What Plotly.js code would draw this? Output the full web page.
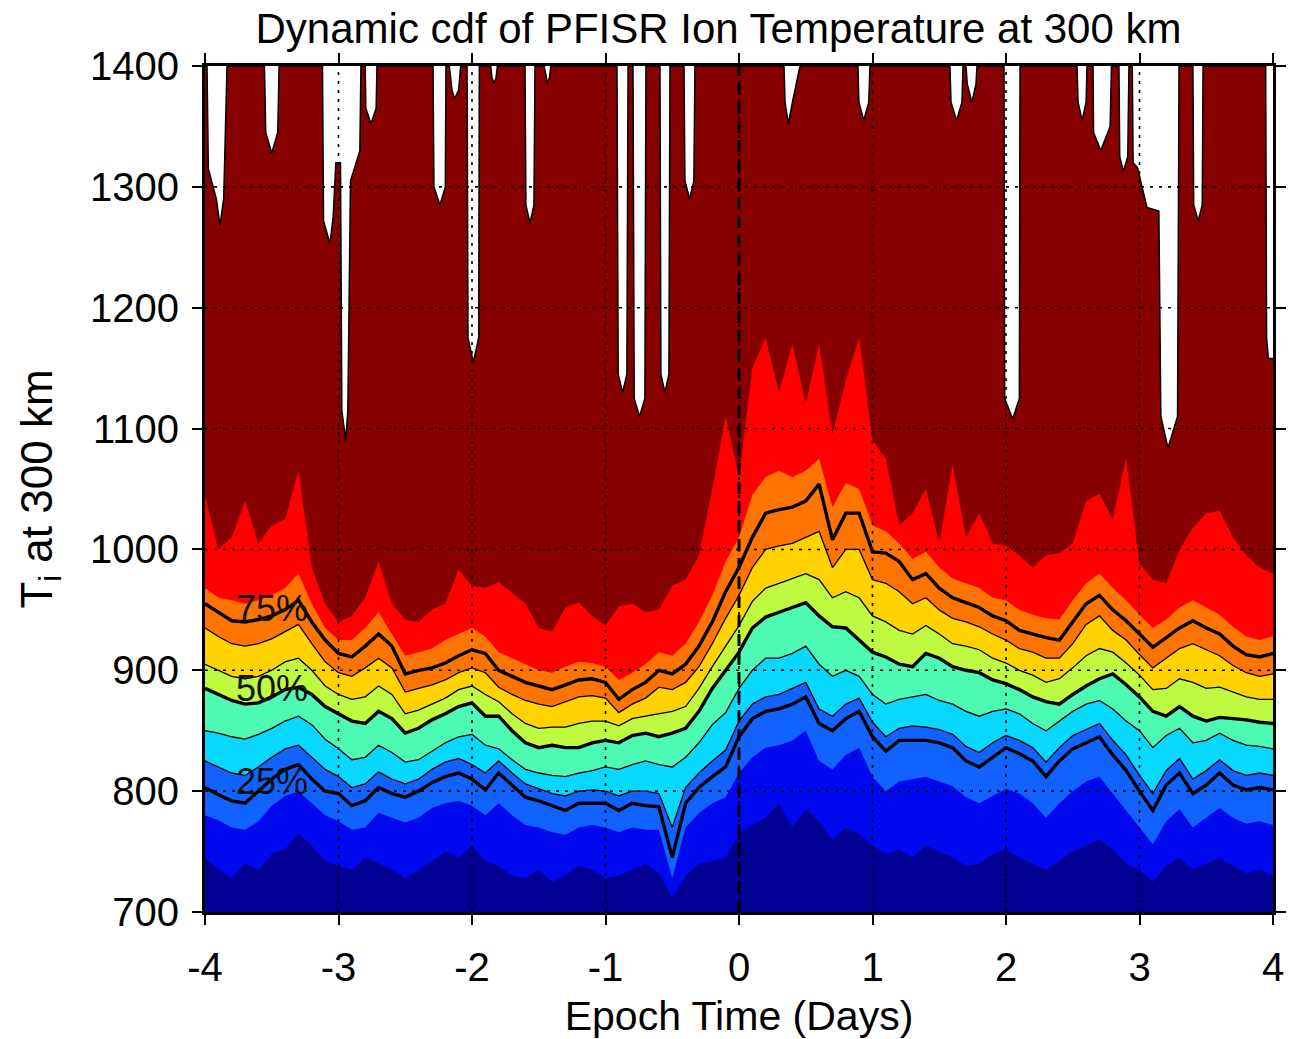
<!DOCTYPE html>
<html>
<head>
<meta charset="utf-8">
<script src="https://cdn.plot.ly/plotly-3.0.1.min.js"></script>
<style>html,body{margin:0;padding:0;background:#fff;}#chart{width:1304px;height:1039px;}</style>
</head>
<body>
<div id="chart"></div>
<script>
// Epoch time grid (days)
const t = [-4.0,-3.9,-3.8,-3.7,-3.6,-3.5,-3.4,-3.3,-3.2,-3.1,
 -3.0,-2.9,-2.8,-2.7,-2.6,-2.5,-2.4,-2.3,-2.2,-2.1,
 -2.0,-1.9,-1.8,-1.7,-1.6,-1.5,-1.4,-1.3,-1.2,-1.1,
 -1.0,-0.9,-0.8,-0.7,-0.6,-0.5,-0.4,-0.3,-0.2,-0.1,
 0.0,0.1,0.2,0.3,0.4,0.5,0.6,0.7,0.8,0.9,
 1.0,1.1,1.2,1.3,1.4,1.5,1.6,1.7,1.8,1.9,
 2.0,2.1,2.2,2.3,2.4,2.5,2.6,2.7,2.8,2.9,
 3.0,3.1,3.2,3.3,3.4,3.5,3.6,3.7,3.8,3.9,4.0];

// Percentile boundaries of ion temperature (K)
const p90 = [1045,1000,1010,1040,1005,1020,1025,1065,985,955,
 940,945,960,990,955,942,940,950,955,983,
 970,968,973,964,955,935,932,952,956,945,
 937,953,955,948,950,970,975,995,1050,1110,
 1060,1150,1175,1130,1170,1120,1170,1095,1140,1175,
 1090,1075,1020,1030,1050,1005,1070,1010,1030,1005,
 1003,995,985,995,997,1005,1040,1046,1025,1075,
 988,975,972,1000,1018,1030,1032,1010,995,985,980];
const p80 = [968,960,958,955,958,962,968,980,955,935,
 925,925,935,948,930,912,915,918,925,930,
 935,928,915,910,905,900,898,903,907,906,
 903,892,898,905,915,912,922,940,962,990,
 1010,1045,1060,1065,1060,1065,1075,1035,1055,1050,
 1020,1015,1005,992,998,985,976,972,968,960,
 958,950,946,943,942,958,972,980,968,958,
 946,935,942,952,958,952,946,936,928,925,928];
const p75 = [955,948,941,940,942,945,950,958,940,925,
 914,911,920,930,920,897,900,902,906,912,
 917,914,900,895,890,887,884,888,892,893,
 890,876,884,890,900,897,905,920,940,965,
 985,1010,1030,1033,1035,1040,1054,1008,1030,1030,
 998,997,990,975,980,968,960,956,952,945,
 941,933,930,927,925,940,955,962,950,941,
 930,919,927,935,941,935,930,920,913,911,914];
const p70 = [935,928,922,920,922,926,932,938,922,907,
 898,895,902,910,902,882,885,888,892,898,
 902,898,886,880,875,872,870,874,878,879,
 877,865,872,877,886,884,890,903,922,943,
 962,985,1000,1003,1005,1010,1015,985,1000,1000,
 975,972,965,955,960,950,943,940,936,930,
 925,918,915,910,910,922,938,945,933,925,
 913,902,910,918,922,917,912,904,898,895,897];
const p60 = [905,900,895,893,895,900,907,910,900,887,
 880,876,878,887,880,864,867,872,877,884,
 887,880,874,864,856,852,853,853,856,858,
 858,854,860,862,864,866,870,885,903,920,
 937,957,968,972,976,980,975,960,965,960,
 945,940,933,930,937,930,922,920,917,910,
 906,900,896,890,893,902,912,918,915,906,
 896,884,885,893,890,885,886,882,878,876,876];
const p50 = [885,880,875,872,873,878,884,886,880,870,
 864,858,856,866,860,848,852,859,864,870,
 873,862,862,850,840,836,838,836,836,840,
 842,840,846,848,845,848,852,866,885,900,
 915,935,944,948,952,956,945,936,935,925,
 915,911,905,903,914,910,903,900,898,892,
 889,884,878,874,872,880,887,893,897,888,
 878,866,862,870,862,858,861,860,859,857,856];
const p40 = [850,848,845,843,847,852,858,862,855,843,
 835,826,828,838,832,824,826,833,840,845,
 847,838,835,826,818,815,813,812,815,817,
 820,818,822,825,822,820,828,840,855,865,
 885,900,910,910,914,920,905,895,900,895,
 880,872,876,878,880,875,872,866,862,866,
 868,864,856,850,858,866,872,875,868,858,
 850,836,846,852,840,842,848,842,838,837,835];
const p30 = [825,820,815,813,820,828,835,838,828,818,
 812,803,806,816,810,806,810,818,824,827,
 822,815,825,815,806,802,798,796,800,801,
 800,796,800,800,798,770,803,815,825,834,
 858,872,878,880,885,890,868,862,872,877,
 857,845,852,854,853,851,847,837,832,840,
 846,842,836,824,836,846,851,856,842,830,
 813,798,817,827,810,817,826,817,813,815,813];
const p25 = [803,797,792,790,800,810,818,822,810,800,
 798,788,792,803,798,795,800,807,812,815,
 810,801,815,805,795,792,788,784,790,790,
 790,784,790,788,787,745,790,803,812,820,
 845,860,866,868,872,878,856,850,860,866,
 845,833,842,842,842,840,836,825,820,828,
 836,831,825,812,825,835,840,845,830,817,
 800,784,805,815,798,805,815,805,801,803,801];
const p20 = [780,776,770,768,775,788,796,800,790,780,
 775,768,770,782,778,774,778,786,790,792,
 788,780,790,780,772,770,766,764,770,772,
 770,766,770,768,768,728,770,782,790,795,
 815,828,836,838,842,850,825,818,830,836,
 812,800,808,810,812,808,804,795,790,796,
 802,798,790,778,790,800,808,812,798,784,
 770,756,775,785,770,778,786,778,773,775,772];
const p10 = [745,735,728,740,735,748,752,765,755,742,
 738,735,745,740,735,728,735,742,750,745,
 755,742,738,730,728,735,725,730,738,735,
 728,730,735,740,732,712,730,740,742,745,
 765,772,778,790,770,785,775,760,770,765,
 755,748,752,745,755,750,745,738,740,748,
 752,745,740,735,742,750,755,760,752,740,
 735,725,738,745,735,740,745,738,732,735,730];

// Maximum observed temperature (top of distribution), irregular times
const tMax = [-4.0,
 -3.985,-3.975,-3.915,-3.888,-3.86,-3.835,
 -3.555,-3.545,-3.5,-3.455,-3.445,
 -3.12,-3.112,-3.064,-3.04,-3.02,-2.985,-2.975,-2.946,-2.93,-2.91,-2.84,-2.832,
 -2.80,-2.795,-2.757,-2.718,-2.712,
 -2.292,-2.285,-2.24,-2.2,-2.195,
 -2.17,-2.15,-2.13,-2.1,-2.085,
 -2.037,-2.03,-1.99,-1.95,-1.945,
 -1.86,-1.85,-1.835,-1.82,-1.81,
 -1.603,-1.596,-1.566,-1.536,-1.528,
 -1.46,-1.445,-1.435,-1.42,-1.41,
 -0.914,-0.905,-0.872,-0.84,-0.831,
 -0.794,-0.785,-0.745,-0.705,-0.697,
 -0.592,-0.585,-0.555,-0.525,-0.517,
 -0.412,-0.405,-0.37,-0.338,-0.33,
 0.337,0.345,0.37,0.4,0.457,
 0.891,0.898,0.935,0.972,0.981,
 1.58,1.588,1.63,1.67,1.678,
 1.70,1.71,1.745,1.775,1.783,
 1.985,1.99,2.05,2.1,2.105,
 2.532,2.54,2.57,2.6,2.607,
 2.652,2.656,2.71,2.78,2.79,
 2.846,2.852,2.88,2.912,2.921,
 2.946,2.952,2.985,3.056,3.145,3.16,3.213,3.285,3.296,
 3.40,3.406,3.44,3.47,3.476,
 3.945,3.952,3.965,4.0];
const maxT = [1400,
 1400,1315,1290,1268,1290,1400,
 1400,1345,1328,1345,1400,
 1400,1272,1253,1275,1320,1320,1115,1090,1115,1305,1330,1400,
 1400,1365,1352,1365,1400,
 1400,1300,1285,1300,1400,
 1400,1380,1373,1380,1400,
 1400,1175,1155,1175,1400,
 1400,1390,1386,1390,1400,
 1400,1285,1270,1285,1400,
 1400,1390,1386,1390,1400,
 1400,1145,1130,1145,1400,
 1400,1125,1110,1125,1400,
 1400,1145,1130,1145,1400,
 1400,1305,1290,1305,1400,
 1400,1370,1352,1370,1400,
 1400,1370,1355,1370,1400,
 1400,1370,1355,1370,1400,
 1400,1385,1370,1385,1400,
 1400,1125,1108,1125,1400,
 1400,1370,1355,1370,1400,
 1400,1345,1330,1350,1400,
 1400,1325,1313,1325,1400,
 1400,1320,1316,1283,1280,1110,1084,1110,1400,
 1400,1285,1272,1285,1400,
 1400,1175,1158,1158];

const xTicks = [-4,-3,-2,-1,0,1,2,3,4];
const yTicks = [700,800,900,1000,1100,1200,1300,1400];
const labelNames = ['75%','50%','25%'];
const labelT = [-3.5,-3.5,-3.5];
const labelY = [951,885,808];

const FONT = 'Liberation Sans, Arial, Helvetica, sans-serif';

function band(x, y, color, edge) {
  return {x: x, y: y, type: 'scatter', mode: 'lines', fill: 'tozeroy', fillcolor: color,
    line: edge ? {color: '#000', width: 1.5} : {width: 0, color: color},
    hoverinfo: 'skip', showlegend: false};
}
function contour(y, w) {
  return {x: t, y: y, type: 'scatter', mode: 'lines', line: {color: '#000', width: w},
    hoverinfo: 'skip', showlegend: false};
}

const data = [
  band(tMax, maxT, '#860000', true),
  band(t, p90, '#FF0000'),
  band(t, p80, '#FF7400'),
  band(t, p70, '#FFD200'),
  band(t, p60, '#BEFA40'),
  band(t, p50, '#4CFAB4'),
  band(t, p40, '#08D8FF'),
  band(t, p30, '#1262FF'),
  band(t, p20, '#0008EE'),
  band(t, p10, '#000092'),
  contour(p70, 1.3), contour(p60, 1.3), contour(p40, 1.3), contour(p30, 1.3),
  contour(p75, 3.4), contour(p50, 3.4), contour(p25, 3.4)
];

const axisCommon = {
  ticks: 'outside', ticklen: 10, tickwidth: 2, tickcolor: '#000',
  showline: true, linewidth: 3, linecolor: '#000', mirror: 'ticks',
  showgrid: false, zeroline: false, layer: 'above traces',
  tickfont: {family: FONT, size: 40, color: '#000'}
};

// dotted grid drawn above the filled bands (as in the original)
const gridDash = '3px,6px';
const gridShapes = [];
xTicks.filter(v => v > -4 && v < 4).forEach(v => gridShapes.push({type: 'line', xref: 'x', yref: 'paper',
  x0: v, x1: v, y0: 0, y1: 1, layer: 'above', line: {color: '#000', width: 1.6, dash: gridDash}}));
yTicks.filter(v => v > 700 && v < 1400).forEach(v => gridShapes.push({type: 'line', xref: 'paper', yref: 'y',
  x0: 0, x1: 1, y0: v, y1: v, layer: 'above', line: {color: '#000', width: 1.6, dash: gridDash}}));
gridShapes.push({type: 'line', xref: 'x', yref: 'paper', x0: 0, x1: 0, y0: 0, y1: 1,
  line: {color: '#000', width: 3, dash: '12px,7px'}, layer: 'above'});

const layout = {
  width: 1304, height: 1039,
  margin: {l: 205, r: 31, t: 66, b: 127},
  paper_bgcolor: '#fff', plot_bgcolor: '#fff',
  font: {family: FONT, color: '#000'},
  title: {text: 'Dynamic cdf of PFISR Ion Temperature at 300 km',
    font: {family: FONT, size: 42, color: '#000'},
    x: 0.551, xref: 'container', xanchor: 'center', y: 0.973, yref: 'container', yanchor: 'middle'},
  xaxis: Object.assign({}, axisCommon, {
    range: [-4, 4], tickvals: xTicks, ticktext: xTicks.map(String), ticklabelstandoff: 8,
    title: {text: 'Epoch Time (Days)', font: {family: FONT, size: 41, color: '#000'}, standoff: 16}
  }),
  yaxis: Object.assign({}, axisCommon, {
    range: [700, 1400], tickvals: yTicks, ticktext: yTicks.map(String), ticklabelstandoff: 5,
    title: {text: 'T<sub>i</sub> at 300 km', font: {family: FONT, size: 44, color: '#000'}, standoff: 24}
  }),
  shapes: gridShapes,
  annotations: labelNames.map((s, i) => ({x: labelT[i], y: labelY[i], xref: 'x', yref: 'y',
    text: s, showarrow: false, font: {family: FONT, size: 36, color: '#111'},
    xanchor: 'center', yanchor: 'middle'}))
};

Plotly.newPlot('chart', data, layout, {displayModeBar: false, staticPlot: true});
</script>
</body>
</html>
